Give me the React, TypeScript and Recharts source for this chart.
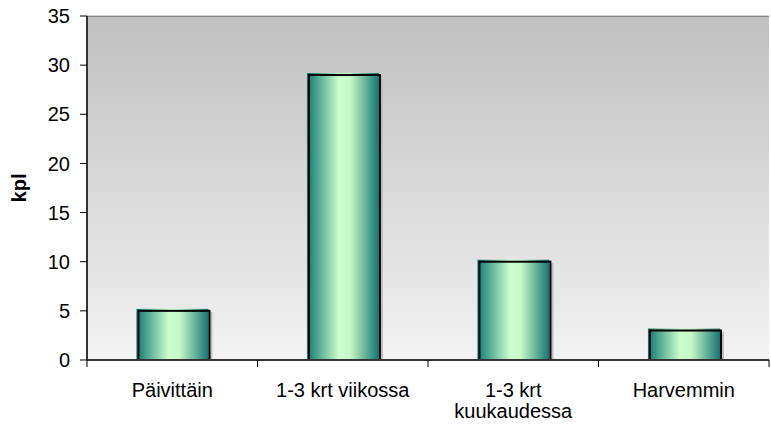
import { Bar, BarChart, CartesianGrid, XAxis, YAxis } from "recharts";

const categories = ["Päivittäin", "1-3 krt viikossa", "1-3 krt kuukaudessa", "Harvemmin"];
const counts = [5, 29, 10, 3];
const yTicks = [0, 5, 10, 15, 20, 25, 30, 35];

const data = categories.map((name, i) => ({ name, kpl: counts[i] }));

const font = "'Liberation Sans', Arial, sans-serif";
const PLOT_LEFT = 87;
const PLOT_RIGHT = 769;
const HALF_BAND = (PLOT_RIGHT - PLOT_LEFT) / categories.length / 2;

function wrap(label: string, max = 16) {
  const lines: string[] = [];
  let cur = "";
  for (const word of label.split(" ")) {
    const next = cur ? cur + " " + word : word;
    if (next.length > max && cur) {
      lines.push(cur);
      cur = word;
    } else cur = next;
  }
  if (cur) lines.push(cur);
  return lines;
}

function CategoryTick(props: any) {
  const { x, y, payload, index } = props;
  const lines = wrap(String(payload.value));
  const last = index === categories.length - 1;
  return (
    <g>
      <line x1={x - HALF_BAND} x2={x - HALF_BAND} y1={y - 8} y2={y - 1} stroke="#000" />
      {last && <line x1={x + HALF_BAND} x2={x + HALF_BAND} y1={y - 8} y2={y - 1} stroke="#000" />}
      <text x={x} y={y + 29} textAnchor="middle" fontFamily={font} fontSize={20} fill="#000">
        {lines.map((l, i) => (
          <tspan key={i} x={x} dy={i === 0 ? 0 : 21}>
            {l}
          </tspan>
        ))}
      </text>
    </g>
  );
}

function BevelBar(props: any) {
  const { x, y, width, height } = props;
  if (!height || height <= 0) return null;
  return (
    <g>
      <rect x={x + 4} y={y + 1} width={width} height={height - 1} fill="#bdbdbd" />
      <rect x={x} y={y - 2} width={width} height={height + 2} fill="url(#barGrad)" />
      <rect x={x + 2} y={y} width={width - 1} height={height} fill="none" stroke="#000" strokeWidth={2} />
    </g>
  );
}

export default function App() {
  return (
    <div style={{ position: "absolute", left: 0, top: 0, width: 771, height: 432, background: "#fff" }}>
      <BarChart
        width={771}
        height={432}
        data={data}
        margin={{ top: 16, right: 2, bottom: 0, left: 0 }}
        barCategoryGap="29%"
      >
        <defs>
          <linearGradient id="bgGrad" x1="0" y1="0" x2="0" y2="1">
            <stop offset="0%" stopColor="#c0c0c0" />
            <stop offset="100%" stopColor="#f2f2f2" />
          </linearGradient>
          <linearGradient id="barGrad" x1="0" y1="0" x2="1" y2="0">
            <stop offset="0%" stopColor="#107a72" />
            <stop offset="45%" stopColor="#ccffcc" />
            <stop offset="60%" stopColor="#c6f8c8" />
            <stop offset="100%" stopColor="#137670" />
          </linearGradient>
        </defs>
        <rect x={PLOT_LEFT} y={16} width={PLOT_RIGHT - PLOT_LEFT} height={344} fill="url(#bgGrad)" />
        <CartesianGrid vertical={false} stroke="#a8a8a8" />
        <XAxis
          dataKey="name"
          height={72}
          tickLine={false}
          axisLine={{ stroke: "#333", strokeWidth: 2 }}
          tick={<CategoryTick />}
          interval={0}
        />
        <YAxis
          width={87}
          domain={[0, 35]}
          ticks={yTicks}
          tickSize={7}
          tickMargin={10}
          axisLine={{ stroke: "#333", strokeWidth: 2 }}
          tickLine={{ stroke: "#000" }}
          tick={{ fill: "#000", fontSize: 20, fontFamily: font }}
          label={{
            value: "kpl",
            angle: -90,
            position: "insideLeft",
            offset: 19,
            style: { fill: "#000", fontSize: 20, fontWeight: "bold", fontFamily: font, textAnchor: "middle" },
          }}
        />
        <line x1={PLOT_LEFT} x2={PLOT_RIGHT} y1={16.5} y2={16.5} stroke="#888" />
        <Bar dataKey="kpl" shape={<BevelBar />} isAnimationActive={false} />
      </BarChart>
    </div>
  );
}
